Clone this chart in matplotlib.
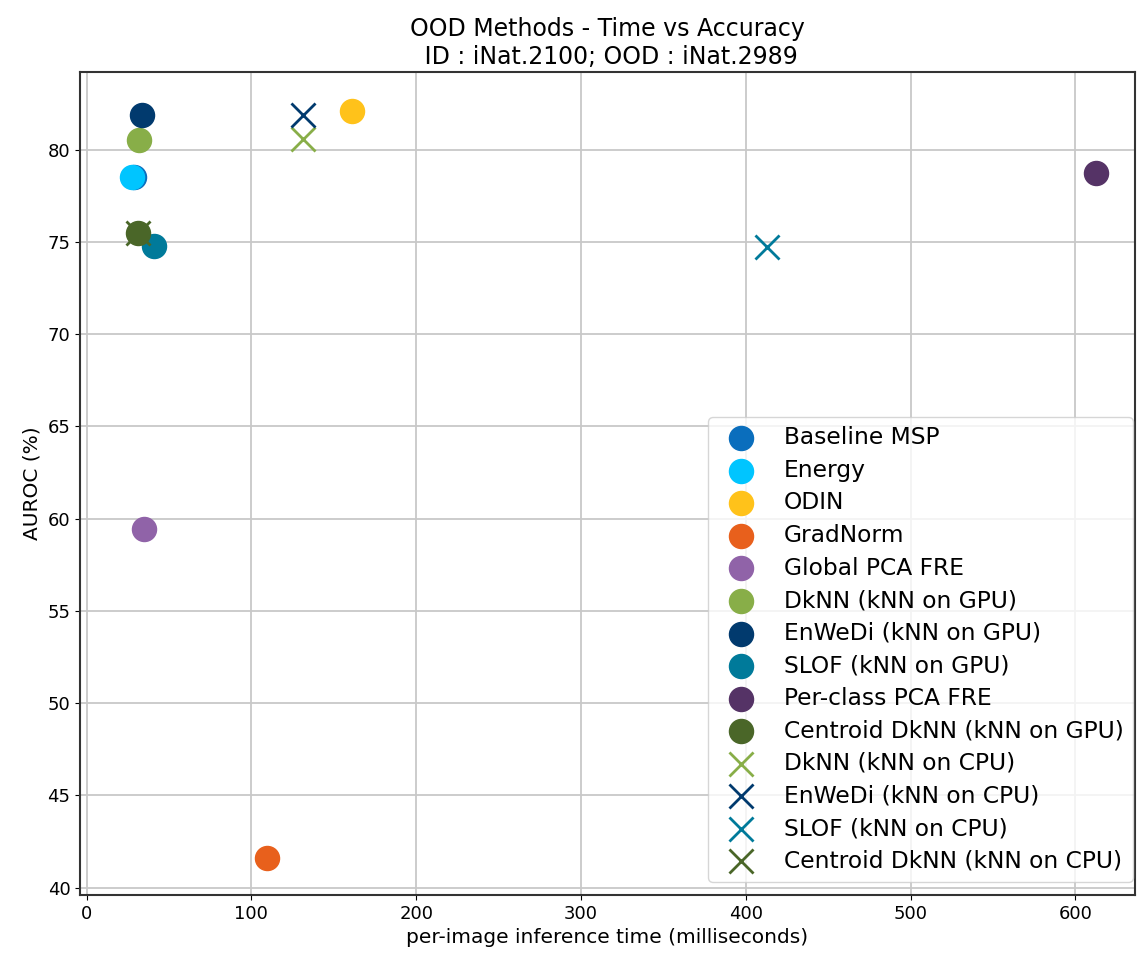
import matplotlib
matplotlib.use("Agg")
import matplotlib.pyplot as plt

# per-image inference time (ms) and AUROC (%)
gpu_names = ["Baseline MSP", "Energy", "ODIN", "GradNorm", "Global PCA FRE",
             "DkNN (kNN on GPU)", "EnWeDi (kNN on GPU)", "SLOF (kNN on GPU)",
             "Per-class PCA FRE", "Centroid DkNN (kNN on GPU)"]
gpu_time = [29, 27.3, 161, 109.7, 35, 32, 33.3, 41, 612.7, 31]
gpu_auroc = [78.5, 78.5, 82.1, 41.6, 59.45, 80.5, 81.85, 74.75, 78.75, 75.45]
gpu_colors = ["#0a6ebd", "#00c5ff", "#ffc21a", "#e8601c", "#9063a8",
              "#88ae48", "#013a6e", "#007a9a", "#553366", "#4a6628"]

cpu_names = ["DkNN (kNN on CPU)", "EnWeDi (kNN on CPU)", "SLOF (kNN on CPU)",
             "Centroid DkNN (kNN on CPU)"]
cpu_time = [131, 131, 412.7, 31]
cpu_auroc = [80.55, 81.85, 74.7, 75.5]
cpu_colors = ["#88ae48", "#013a6e", "#007a9a", "#4a6628"]

fig = plt.figure(figsize=(11.37, 9.6), dpi=100)
ax = fig.add_axes([0.0704, 0.0677, 0.9276, 0.8573])

for n, t, a, c in zip(gpu_names, gpu_time, gpu_auroc, gpu_colors):
    ax.scatter(t, a, s=300, color=c, label=n, zorder=3)
for n, t, a, c in zip(cpu_names, cpu_time, cpu_auroc, cpu_colors):
    ax.scatter(t, a, s=300, color=c, marker="x", linewidths=2, label=n, zorder=3)

ax.set_xlim(-4, 636)
ax.set_ylim(39.6, 84.2)
ax.set_xticks([0, 100, 200, 300, 400, 500, 600])
ax.set_yticks([40, 45, 50, 55, 60, 65, 70, 75, 80])
ax.tick_params(labelsize=13)
ax.grid(True, color="#c8c8c8", linewidth=1.3)
ax.set_axisbelow(True)
for sp in ax.spines.values():
    sp.set_linewidth(1.5)
    sp.set_color("#333333")

ax.set_xlabel("per-image inference time (milliseconds)", fontsize=14.5)
ax.set_ylabel("AUROC (%)", fontsize=14.5)
ax.set_title("OOD Methods - Time vs Accuracy\n ID : iNat.2100; OOD : iNat.2989", fontsize=17)
ax.legend(loc="lower right", bbox_to_anchor=(0.9965, 0.0813), bbox_transform=fig.transFigure,
          borderaxespad=0, fontsize=16.8, labelspacing=0.41, borderpad=0.4,
          handletextpad=0.85, scatterpoints=1)

fig.savefig("out.png", dpi=100)
